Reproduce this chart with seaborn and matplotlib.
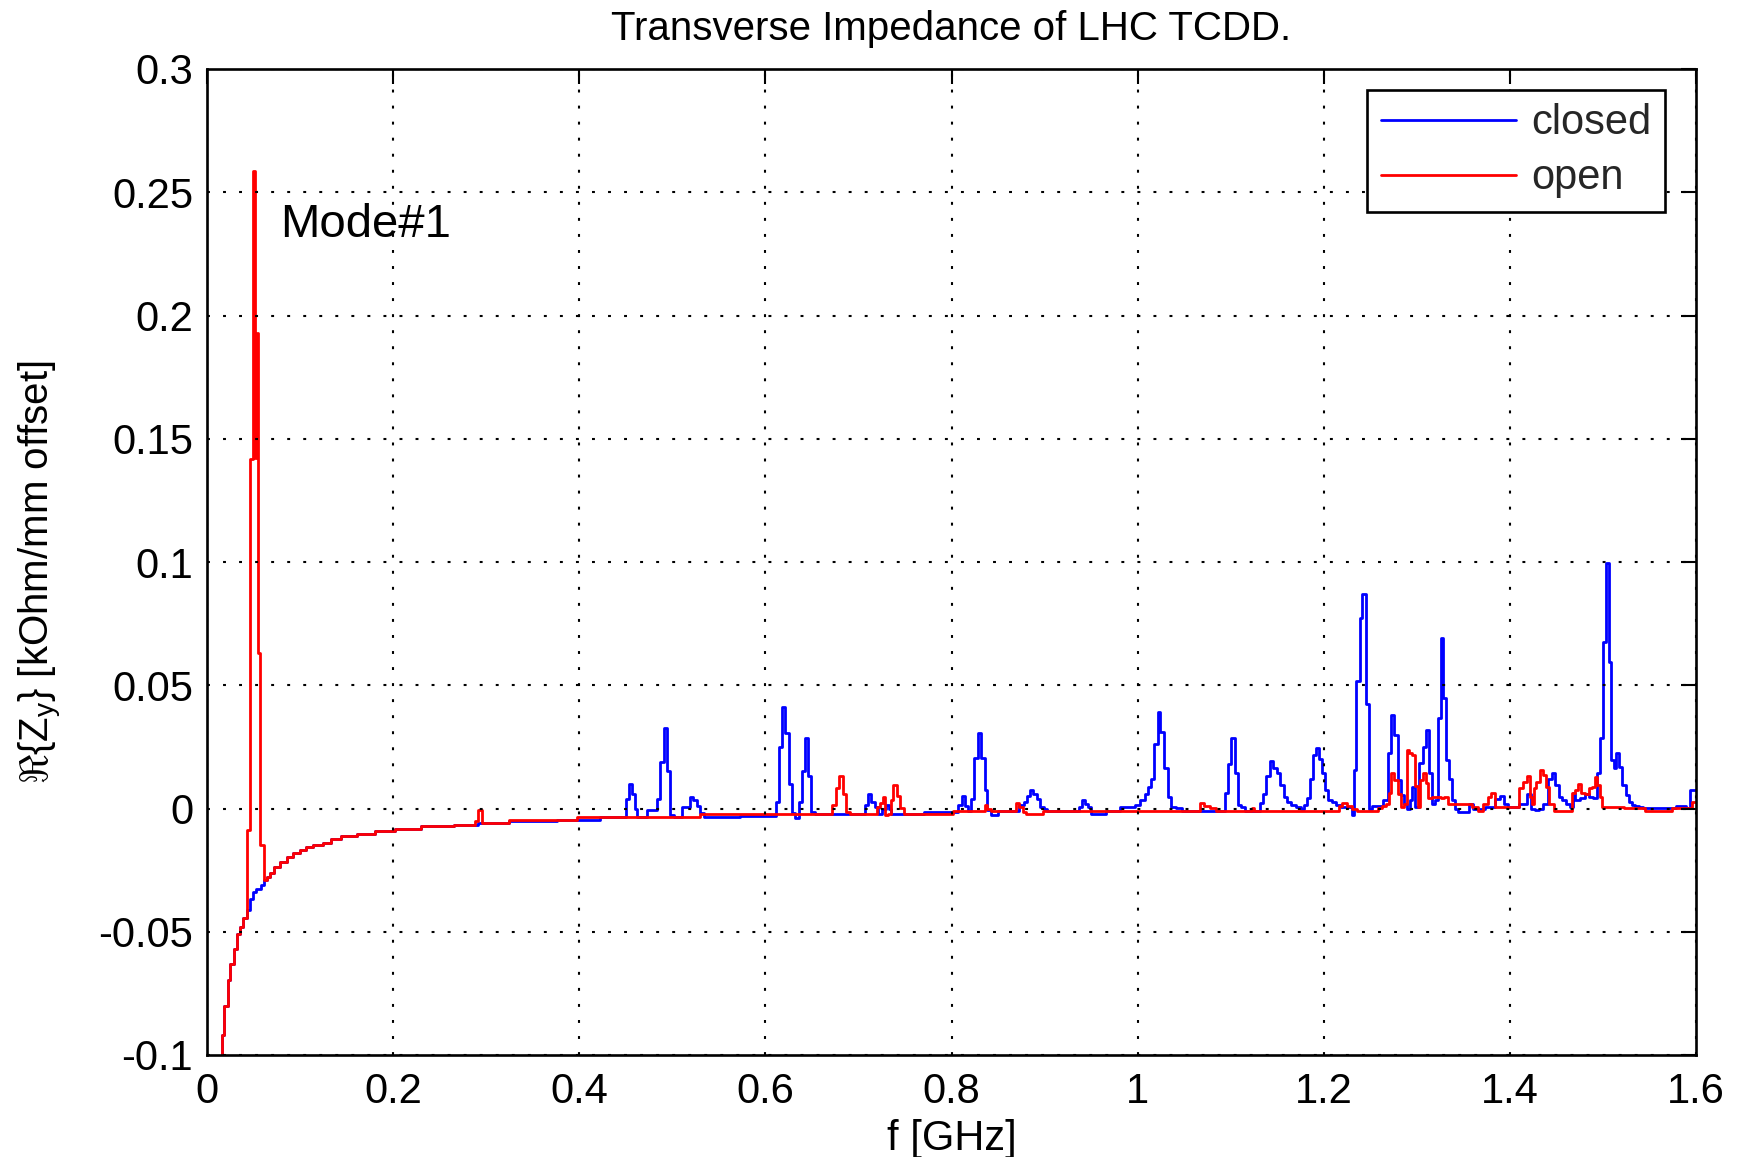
import matplotlib
matplotlib.use("Agg")
import matplotlib.pyplot as plt
import seaborn as sns
import pandas as pd

# ---------------- data ----------------
title_text = "Transverse Impedance of LHC TCDD."
x_label = "f [GHz]"
y_label = r"$\Re\{Z_y\}$ [kOhm/mm offset]"
series_names = ["closed", "open"]
annotation_text = "Mode#1"

x_ticks = [0, 0.2, 0.4, 0.6, 0.8, 1.0, 1.2, 1.4, 1.6]
x_tick_labels = ["0", "0.2", "0.4", "0.6", "0.8", "1", "1.2", "1.4", "1.6"]
y_ticks = [-0.1, -0.05, 0, 0.05, 0.1, 0.15, 0.2, 0.25, 0.3]
y_tick_labels = ["-0.1", "-0.05", "0", "0.05", "0.1", "0.15", "0.2", "0.25", "0.3"]

# low-frequency tail common to both
low_f = [0.0150, 0.0166, 0.0210, 0.0235, 0.0270, 0.0300, 0.0340, 0.0370, 0.0410]
low_v = [-0.105, -0.092, -0.080, -0.0696, -0.063, -0.057, -0.051, -0.048, -0.0446]

tail_f = [0.0660, 0.0697, 0.0750, 0.0820, 0.0895, 0.0950, 0.1040, 0.1080, 0.1200,
          0.1290, 0.1380, 0.1490, 0.1730, 0.1890, 0.2140, 0.2450, 0.2860]
tail_v = [-0.0276, -0.026, -0.0236, -0.0218, -0.0197, -0.018, -0.017, -0.0157, -0.015,
          -0.0139, -0.0123, -0.0113, -0.0105, -0.0092, -0.0084, -0.0071, -0.0068]

# closed (blue)
closed_f = low_f + [0.0440, 0.0480, 0.0516, 0.0540, 0.0570, 0.0596, 0.0630] + tail_f + [
    0.2970, 0.3530, 0.4000, 0.4450, 0.4490, 0.4520, 0.4550, 0.4580, 0.4610, 0.4640,
    0.4820, 0.4850, 0.4890, 0.4930, 0.4960, 0.5000, 0.5030, 0.5170, 0.5210, 0.5240,
    0.5280, 0.5320, 0.5360, 0.6100, 0.6130, 0.6160, 0.6200, 0.6230, 0.6270, 0.6300,
    0.6340, 0.6380, 0.6410, 0.6440, 0.6480, 0.6510, 0.6550, 0.7060, 0.7090, 0.7120,
    0.7160, 0.7190, 0.7220, 0.7280, 0.7310, 0.7340, 0.7370, 0.8030, 0.8060, 0.8090,
    0.8130, 0.8160, 0.8190, 0.8230, 0.8260, 0.8300, 0.8340, 0.8370, 0.8400, 0.8440,
    0.8560, 0.8700, 0.8760, 0.8800, 0.8830, 0.8860, 0.8900, 0.8930, 0.8970, 0.9010,
    0.9050, 0.9350, 0.9390, 0.9420, 0.9450, 0.9480, 0.9510, 0.9640, 0.9670, 0.9950,
    1.0000, 1.0060, 1.0100, 1.0130, 1.0160, 1.0200, 1.0230, 1.0260, 1.0310, 1.0340,
    1.0370, 1.0460, 1.0500, 1.0930, 1.0950, 1.0990, 1.1025, 1.1060, 1.1096, 1.1130,
    1.1180, 1.1300, 1.1330, 1.1360, 1.1400, 1.1440, 1.1480, 1.1510, 1.1550, 1.1590,
    1.1620, 1.1670, 1.1730, 1.1780, 1.1800, 1.1840, 1.1870, 1.1900, 1.1930, 1.1970,
    1.2000, 1.2030, 1.2070, 1.2110, 1.2160, 1.2220, 1.2290, 1.2315, 1.2330, 1.2370,
    1.2400, 1.2430, 1.2470, 1.2500, 1.2535, 1.2600, 1.2670, 1.2710, 1.2740, 1.2780,
    1.2810, 1.2850, 1.2880, 1.2910, 1.2935, 1.2970, 1.3000, 1.3050, 1.3080, 1.3110,
    1.3145, 1.3180, 1.3210, 1.3240, 1.3270, 1.3300, 1.3330, 1.3370, 1.3390, 1.3425,
    1.3470, 1.3540, 1.3580, 1.3626, 1.3715, 1.3760, 1.3820, 1.3870, 1.3915, 1.3960,
    1.4005, 1.4070, 1.4120, 1.4160, 1.4205, 1.4250, 1.4285, 1.4340, 1.4380, 1.4430,
    1.4470, 1.4510, 1.4540, 1.4580, 1.4630, 1.4670, 1.4686, 1.4717, 1.4780, 1.4830,
    1.4870, 1.4920, 1.4950, 1.4980, 1.5020, 1.5050, 1.5070, 1.5100, 1.5130, 1.5160,
    1.5190, 1.5230, 1.5270, 1.5300, 1.5330, 1.5360, 1.5410, 1.5450, 1.5500, 1.5760,
    1.5810, 1.5880, 1.5900, 1.5965, 1.6000]
closed_v = low_v + [-0.041, -0.0367, -0.034, -0.0328, -0.0326, -0.031, -0.029] + tail_v + [
    -0.0060, -0.0050, -0.0045, -0.0036, -0.0036, 0.0038, 0.0098, 0.0060, 0.0000, -0.0034,
    -0.0007, 0.0038, 0.0190, 0.0326, 0.0154, -0.0027, -0.0034, 0.0007, 0.0047, 0.0036,
    0.0009, -0.0020, -0.0034, -0.0030, 0.0027, 0.0248, 0.0412, 0.0307, 0.0098, -0.0020,
    -0.0040, 0.0027, 0.0154, 0.0284, 0.0130, -0.0013, -0.0024, -0.0024, 0.0013, 0.0060,
    0.0027, 0.0007, -0.0024, 0.0000, 0.0013, 0.0000, -0.0024, -0.0015, -0.0013, 0.0013,
    0.0049, 0.0009, -0.0010, 0.0040, 0.0204, 0.0307, 0.0204, 0.0074, -0.0007, -0.0027,
    -0.0011, -0.0011, 0.0013, 0.0027, 0.0049, 0.0074, 0.0060, 0.0040, 0.0007, 0.0000,
    -0.0010, -0.0010, 0.0007, 0.0036, 0.0020, 0.0007, -0.0023, -0.0023, -0.0011, 0.0007,
    0.0014, 0.0036, 0.0060, 0.0088, 0.0118, 0.0260, 0.0390, 0.0310, 0.0166, 0.0047,
    0.0007, 0.0004, -0.0011, -0.0011, 0.0061, 0.0180, 0.0287, 0.0143, 0.0014, 0.0007,
    -0.0011, -0.0011, 0.0023, 0.0060, 0.0131, 0.0192, 0.0166, 0.0142, 0.0095, 0.0047,
    0.0027, 0.0014, 0.0007, -0.0004, 0.0014, 0.0041, 0.0118, 0.0216, 0.0247, 0.0200,
    0.0142, 0.0077, 0.0036, 0.0027, 0.0014, 0.0007, 0.0007, -0.0027, 0.0155, 0.0516,
    0.0774, 0.0869, 0.0423, 0.0000, 0.0010, 0.0010, 0.0034, 0.0225, 0.0380, 0.0297,
    0.0116, 0.0055, 0.0020, 0.0000, 0.0034, 0.0089, 0.0007, 0.0184, 0.0250, 0.0320,
    0.0143, 0.0020, 0.0034, 0.0369, 0.0690, 0.0450, 0.0195, 0.0119, 0.0034, 0.0000,
    -0.0014, -0.0014, 0.0020, 0.0000, 0.0000, 0.0007, 0.0007, 0.0037, 0.0050, 0.0020,
    0.0007, 0.0007, 0.0020, 0.0020, 0.0059, 0.0000, -0.0007, 0.0000, 0.0020, 0.0119,
    0.0143, 0.0096, 0.0048, 0.0034, 0.0020, 0.0007, 0.0061, 0.0034, 0.0041, 0.0059,
    0.0048, 0.0041, 0.0143, 0.0287, 0.0675, 0.0996, 0.0594, 0.0195, 0.0164, 0.0225,
    0.0168, 0.0096, 0.0055, 0.0025, 0.0014, 0.0011, 0.0007, 0.0003, 0.0003, 0.0003,
    0.0011, 0.0011, 0.0003, 0.0075, 0.0075]

# open (red)
open_f = low_f + [0.0444, 0.0483, 0.0513, 0.0527, 0.0540, 0.0556, 0.0585, 0.0630] + tail_f + [
    0.2890, 0.2930, 0.2970, 0.3510, 0.4450, 0.6140, 0.6700, 0.6740, 0.6770, 0.6820,
    0.6850, 0.6890, 0.6920, 0.7180, 0.7220, 0.7250, 0.7280, 0.7300, 0.7330, 0.7360,
    0.7390, 0.7430, 0.7470, 0.7500, 0.8000, 0.8030, 0.8340, 0.8370, 0.8400, 0.8440,
    0.8680, 0.8710, 0.8750, 0.8790, 0.8820, 0.8970, 0.9000, 1.0660, 1.0690, 1.0730,
    1.0820, 1.0870, 1.1210, 1.1240, 1.1260, 1.2150, 1.2180, 1.2220, 1.2280, 1.2330,
    1.2380, 1.2560, 1.2600, 1.2650, 1.2690, 1.2710, 1.2740, 1.2780, 1.2810, 1.2850,
    1.2880, 1.2900, 1.2930, 1.2970, 1.3000, 1.3020, 1.3050, 1.3080, 1.3110, 1.3140,
    1.3180, 1.3250, 1.3280, 1.3310, 1.3350, 1.3560, 1.3626, 1.3690, 1.3740, 1.3780,
    1.3820, 1.3850, 1.4070, 1.4120, 1.4160, 1.4200, 1.4230, 1.4250, 1.4270, 1.4300,
    1.4340, 1.4370, 1.4400, 1.4450, 1.4490, 1.4650, 1.4686, 1.4717, 1.4750, 1.4780,
    1.4830, 1.4865, 1.4900, 1.4920, 1.4950, 1.4980, 1.5007, 1.5450, 1.5460, 1.5740,
    1.5750, 1.5940, 1.5965, 1.6000]
open_v = low_v + [-0.0087, 0.1417, 0.2585, 0.1420, 0.1930, 0.0630, -0.0150, -0.0290] + tail_v + [
    -0.0050, -0.0007, -0.0060, -0.0047, -0.0034, -0.0024, -0.0024, 0.0013, 0.0084, 0.0130,
    0.0060, -0.0013, -0.0024, -0.0024, 0.0007, 0.0023, 0.0047, -0.0027, -0.0024, 0.0034,
    0.0097, 0.0050, 0.0003, -0.0024, -0.0024, -0.0010, -0.0010, 0.0013, 0.0000, -0.0011,
    -0.0011, 0.0023, 0.0007, -0.0013, -0.0024, -0.0024, -0.0011, -0.0011, 0.0024, 0.0010,
    0.0003, -0.0011, -0.0011, 0.0003, -0.0011, -0.0011, 0.0010, 0.0024, 0.0011, 0.0000,
    -0.0010, -0.0010, 0.0003, 0.0011, 0.0020, 0.0061, 0.0143, 0.0116, 0.0059, 0.0007,
    0.0020, 0.0236, 0.0225, 0.0218, 0.0093, 0.0007, 0.0116, 0.0146, 0.0102, 0.0041,
    0.0048, 0.0048, 0.0041, 0.0048, 0.0020, 0.0020, 0.0007, -0.0010, 0.0020, 0.0048,
    0.0061, 0.0007, 0.0007, 0.0082, 0.0109, 0.0130, 0.0048, 0.0020, 0.0082, 0.0109,
    0.0157, 0.0137, 0.0089, 0.0020, -0.0010, -0.0010, 0.0061, 0.0075, 0.0100, 0.0061,
    0.0059, 0.0082, 0.0086, 0.0127, 0.0096, 0.0048, 0.0007, 0.0003, -0.0011, -0.0011,
    0.0003, 0.0003, 0.0027, 0.0027]

# ---------------- plot ----------------
sns.set_theme(style="white")
plt.rcParams["font.family"] = ["Liberation Sans", "DejaVu Sans"]
plt.rcParams["mathtext.fontset"] = "custom"
plt.rcParams["mathtext.rm"] = "Liberation Sans"
plt.rcParams["mathtext.it"] = "Liberation Sans"

fig = plt.figure(figsize=(17.38, 11.57), dpi=100)
ax = fig.add_axes([207 / 1738, 1 - 1055 / 1157, (1696 - 207) / 1738, (1055 - 69) / 1157])

df_closed = pd.DataFrame({"f": closed_f, "v": closed_v})
df_open = pd.DataFrame({"f": open_f, "v": open_v})

sns.lineplot(data=df_closed, x="f", y="v", ax=ax, color=(0, 0, 1), lw=2.0,
             estimator=None, sort=False, label=series_names[0], drawstyle="steps-mid")
sns.lineplot(data=df_open, x="f", y="v", ax=ax, color=(1, 0, 0), lw=2.0,
             estimator=None, sort=False, label=series_names[1], drawstyle="steps-mid")

ax.set_xlim(0, 1.6)
ax.set_ylim(-0.1, 0.3)
ax.set_xticks(x_ticks)
ax.set_xticklabels(x_tick_labels)
ax.set_yticks(y_ticks)
ax.set_yticklabels(y_tick_labels)

ax.grid(True, color="black", linestyle=(0, (1.4, 6.3)), linewidth=1.5)
ax.set_axisbelow(False)

for s in ax.spines.values():
    s.set_color("black")
    s.set_linewidth(1.9)
ax.tick_params(direction="in", length=11, width=1.5, top=True, right=True,
               labelsize=30, colors="black", pad=10)
ax.tick_params(axis="x", pad=12)

ax.set_title(title_text, fontsize=29, pad=21, color="black")
ax.set_xlabel(x_label, fontsize=30, color="black")
ax.set_ylabel(y_label, fontsize=29, color="black")
ax.xaxis.set_label_coords(0.5, -0.0654)
ax.yaxis.set_label_coords(-0.096, 0.49)

ax.text(0.0785, 0.232, annotation_text, fontsize=34, color="black", ha="left", va="baseline")

leg = ax.legend(loc="upper right", bbox_to_anchor=(0.979, 0.979), borderaxespad=0,
                fontsize=30, frameon=True, fancybox=False, shadow=False,
                handlelength=3.25, handletextpad=0.35, labelspacing=0.36, borderpad=0.33)
leg.get_frame().set_edgecolor("black")
leg.get_frame().set_linewidth(1.9)
leg.get_frame().set_alpha(1)
for line in leg.get_lines():
    line.set_linewidth(2.0)
    line.set_drawstyle("default")

fig.savefig("out.png", dpi=100, facecolor="white")
